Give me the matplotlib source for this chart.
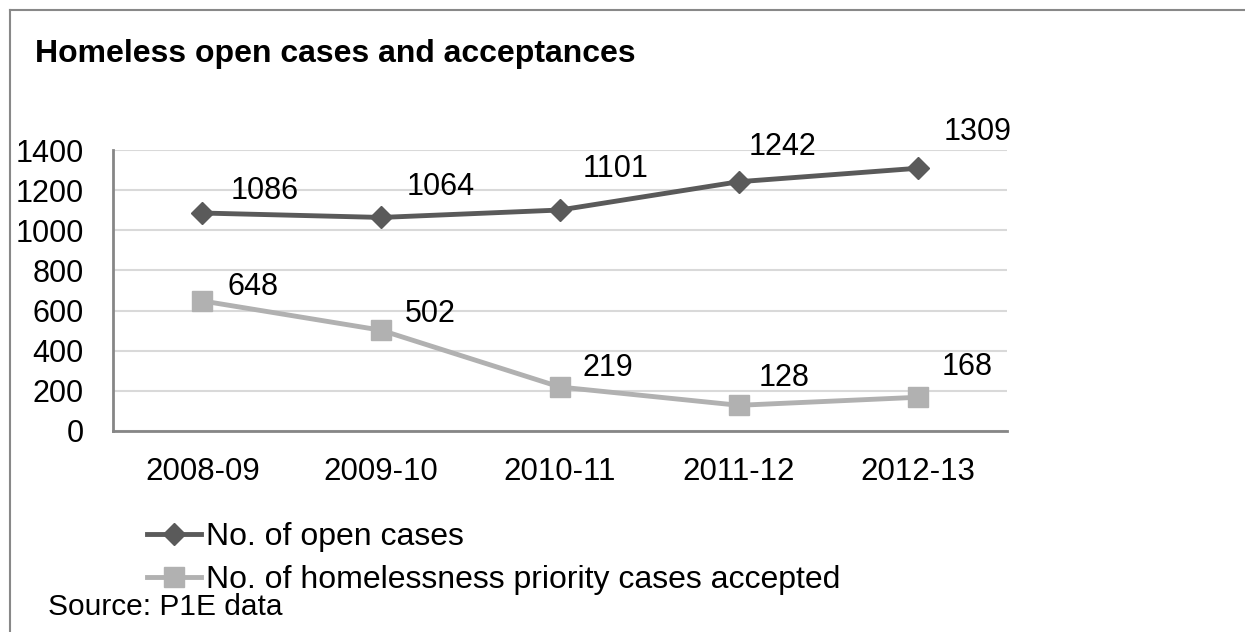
import matplotlib
matplotlib.use("Agg")
import matplotlib.pyplot as plt
from matplotlib.lines import Line2D

plt.rcParams["font.family"] = ["Liberation Sans", "DejaVu Sans"]

# data
years = ["2008-09", "2009-10", "2010-11", "2011-12", "2012-13"]
open_cases = [1086, 1064, 1101, 1242, 1309]
accepted = [648, 502, 219, 128, 168]

# label nudges (pixels, right/up) to mimic the hand-placed labels
open_offsets = [(28, 14), (25, 22), (23, 33), (10, 27), (26, 28)]
acc_offsets = [(25, 6), (24, 8), (22, 11), (20, 19), (24, 22)]

DARK = "#5a5a5a"
LIGHT = "#b1b1b1"
FS = 22

W, H = 1245, 632
fig = plt.figure(figsize=(W / 100, H / 100), dpi=100)
ax = fig.add_axes([113 / W, 1 - 431 / H, (1007 - 113) / W, (431 - 150) / H])

x = list(range(len(years)))
ax.plot(x, open_cases, color=DARK, lw=3.5, marker="D", ms=11.5,
        mec=DARK, mfc=DARK, label="No. of open cases", zorder=3)
ax.plot(x, accepted, color=LIGHT, lw=3.5, marker="s", ms=14.5,
        mec=LIGHT, mfc=LIGHT, label="No. of homelessness priority cases accepted",
        zorder=3)

for xi, v, (dx, dy) in zip(x, open_cases, open_offsets):
    ax.annotate(str(v), (xi, v), xytext=(dx, dy), textcoords="offset pixels",
                ha="left", va="baseline", fontsize=FS)
for xi, v, (dx, dy) in zip(x, accepted, acc_offsets):
    ax.annotate(str(v), (xi, v), xytext=(dx, dy), textcoords="offset pixels",
                ha="left", va="baseline", fontsize=FS)

ax.set_xlim(-0.5, len(years) - 0.5)
ax.set_ylim(0, 1400)
ax.set_yticks(range(0, 1401, 200))
ax.set_xticks(x)
ax.set_xticklabels(years)
ax.tick_params(axis="both", length=0, labelsize=FS)
ax.tick_params(axis="x", labelsize=22.5, pad=19)
ax.tick_params(axis="y", pad=21)
ax.grid(axis="y", color="#d9d9d9", lw=1.5)
ax.set_axisbelow(True)
for s in ["top", "right"]:
    ax.spines[s].set_visible(False)
for s in ["left", "bottom"]:
    ax.spines[s].set_color("#868686")
    ax.spines[s].set_linewidth(2)

fig.text(35 / W, 1 - 62 / H, "Homeless open cases and acceptances",
         fontsize=23, fontweight="bold", va="baseline", ha="left")

handles = [
    Line2D([], [], color=DARK, lw=3.5, marker="D", ms=11.5, mec=DARK, mfc=DARK),
    Line2D([], [], color=LIGHT, lw=3.5, marker="s", ms=14.5, mec=LIGHT, mfc=LIGHT),
]
fig.legend(handles, ["No. of open cases", "No. of homelessness priority cases accepted"],
           loc="upper left", bbox_to_anchor=(147 / W, 1 - 522 / H),
           frameon=False, fontsize=23, handlelength=1.7, handletextpad=0.15,
           labelspacing=0.4, borderpad=0, borderaxespad=0)

fig.text(48 / W, 1 - 615 / H, "Source: P1E data", fontsize=21.5,
         va="baseline", ha="left")

# chart frame (only top and left edges show in the crop)
fig.add_artist(Line2D([10 / W, 1], [1 - 10 / H, 1 - 10 / H], color="#888888", lw=1.5))
fig.add_artist(Line2D([10 / W, 10 / W], [0, 1 - 10 / H], color="#888888", lw=1.5))

fig.savefig("out.png", dpi=100)
